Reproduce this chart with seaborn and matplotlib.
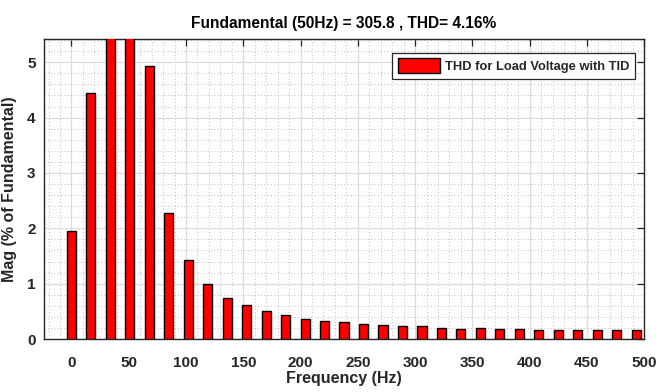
import matplotlib
matplotlib.use("Agg")
import matplotlib.pyplot as plt
from matplotlib.ticker import MultipleLocator
import seaborn as sns
import pandas as pd

freqs = [0, 17, 34, 51, 68, 85, 102, 119, 136, 153, 170, 187, 204, 221, 238,
         255, 272, 289, 306, 323, 340, 357, 374, 391, 408, 425, 442, 459, 476, 493]
mags = [1.95, 4.44, 6.0, 6.0, 4.93, 2.27, 1.42, 0.99, 0.75, 0.61, 0.51, 0.43, 0.37, 0.33, 0.30,
        0.28, 0.26, 0.23, 0.23, 0.20, 0.18, 0.20, 0.18, 0.18, 0.16, 0.16, 0.16, 0.16, 0.16, 0.16]
xticks = [0, 50, 100, 150, 200, 250, 300, 350, 400, 450, 500]
yticks = [0, 1, 2, 3, 4, 5]
title = "Fundamental (50Hz) = 305.8 , THD= 4.16%"
series_name = "THD for Load Voltage with TID"

sns.set_style("white")
fam = ["Liberation Sans Narrow", "DejaVu Sans Condensed", "Liberation Sans", "DejaVu Sans"]
plt.rcParams["font.family"] = fam
plt.rcParams["font.weight"] = "bold"

df = pd.DataFrame({"freq": freqs, "mag": mags, "series": series_name})

fig = plt.figure(figsize=(6.56, 3.92), dpi=100)
ax = fig.add_axes([0.067, 0.135, 0.915, 0.7655])

sns.barplot(data=df, x="freq", y="mag", hue="series", native_scale=True,
            width=0.47, palette=["#ff0000"], saturation=1, edgecolor="black", linewidth=1.0,
            ax=ax, zorder=3)

ax.set_xlim(-24, 500)
ax.set_ylim(0, 5.42)
ax.set_xticks(xticks)
ax.set_yticks(yticks)
ax.xaxis.set_minor_locator(MultipleLocator(10))
ax.yaxis.set_minor_locator(MultipleLocator(0.2))
ax.grid(True, which="major", color="#dcdcdc", linewidth=0.9, zorder=0)
ax.grid(True, which="minor", color="#a8a8a8", linestyle=(0, (1, 3)), linewidth=0.6, zorder=0)
ax.set_axisbelow(True)

ax.tick_params(axis="both", which="major", direction="in", length=5, width=0.9,
               top=True, right=True, labelsize=11, colors="#262626")
ax.tick_params(axis="x", which="major", pad=12)
ax.tick_params(axis="y", which="major", pad=6)
ax.tick_params(which="minor", length=0)
for lab in ax.get_xticklabels() + ax.get_yticklabels():
    lab.set_fontweight("bold")
for s in ax.spines.values():
    s.set_color("#262626")
    s.set_linewidth(1.0)
    s.set_visible(True)

ax.set_xlabel("Frequency (Hz)", fontsize=11.5, fontweight="bold", color="#262626", labelpad=1)
ax.set_ylabel("Mag (% of Fundamental)", fontsize=11.5, fontweight="bold", color="#262626", labelpad=7)
ax.set_title(title, fontsize=11.2, fontweight="bold", color="black", pad=8)

leg = ax.legend(loc="upper right", bbox_to_anchor=(0.985, 0.955), fontsize=9.3, frameon=True,
                fancybox=False, edgecolor="#262626", framealpha=1, handlelength=3.3,
                handleheight=1.35, borderpad=0.45, handletextpad=0.35, borderaxespad=0.0)
leg.get_frame().set_linewidth(0.9)
for t in leg.get_texts():
    t.set_fontweight("bold")

fig.savefig("out.png", dpi=100)
